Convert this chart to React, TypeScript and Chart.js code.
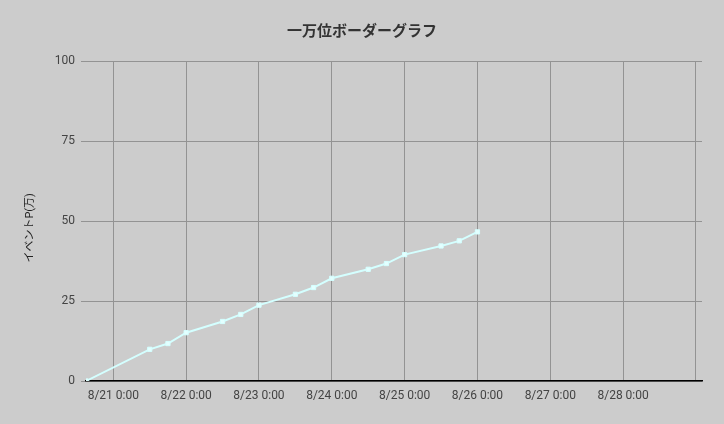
import { useEffect, useRef } from "react";
import { Chart, registerables, type ChartConfiguration } from "chart.js";

Chart.register(...registerables);

// sample times (month/day hour:min) and event points in 万
const TIMES = [
  "8/20 15:00",
  "8/21 12:00",
  "8/21 18:00",
  "8/22 0:00",
  "8/22 12:00",
  "8/22 18:00",
  "8/23 0:00",
  "8/23 12:00",
  "8/23 18:00",
  "8/24 0:00",
  "8/24 12:00",
  "8/24 18:00",
  "8/25 0:00",
  "8/25 12:00",
  "8/25 18:00",
  "8/26 0:00",
];
const POINTS = [0, 9.9, 11.7, 15.1, 18.6, 20.8, 23.7, 27.1, 29.2, 32.1, 34.9, 36.7, 39.5, 42.2, 43.8, 46.6];

const X_START = "8/20 15:00";
const X_END = "8/29 2:00";
const DAY_TICKS = ["8/21", "8/22", "8/23", "8/24", "8/25", "8/26", "8/27", "8/28", "8/29"];
const Y_TICKS = [0, 25, 50, 75, 100];

// hours since 8/21 0:00
function toHours(s: string): number {
  const [date, time] = s.split(" ");
  const day = Number(date.split("/")[1]);
  const [h, m] = (time ?? "0:00").split(":").map(Number);
  return (day - 21) * 24 + h + m / 60;
}

function label(hours: number): string {
  const day = 21 + Math.round(hours / 24);
  return `8/${day} 0:00`;
}

const FONT = "Roboto, 'Noto Sans CJK JP', sans-serif";

export default function App() {
  const canvasRef = useRef<HTMLCanvasElement>(null);

  useEffect(() => {
    document.body.style.margin = "0";
    if (!canvasRef.current) return;

    const data = TIMES.map((t, i) => ({ x: toHours(t), y: POINTS[i] }));
    const dayHours = DAY_TICKS.map((d) => toHours(d + " 0:00"));
    const lastLabelled = toHours("8/28 0:00");

    const config: ChartConfiguration<"line"> = {
      type: "line",
      data: {
        datasets: [
          {
            label: "一万位",
            data,
            borderColor: "#d4ffff",
            backgroundColor: "#e4ffff",
            pointBackgroundColor: "#e4ffff",
            pointBorderColor: "#d4ffff",
            pointStyle: "rect",
            pointRadius: 3,
            pointBorderWidth: 1,
            borderWidth: 2,
            tension: 0,
          },
        ],
      },
      options: {
        animation: false,
        responsive: true,
        maintainAspectRatio: false,
        layout: { padding: 0 },
        plugins: {
          legend: { display: false },
          tooltip: { enabled: false },
          title: {
            display: true,
            text: "一万位ボーダーグラフ",
            color: "#333",
            font: { family: FONT, size: 15, weight: "bold", lineHeight: 1.2 },
            padding: { top: 23, bottom: 20 },
          },
        },
        scales: {
          x: {
            type: "linear",
            min: toHours(X_START),
            max: toHours(X_END),
            afterBuildTicks: (scale) => {
              scale.ticks = dayHours.map((v) => ({ value: v }));
            },
            afterFit: (scale) => {
              scale.height = 43;
              scale.paddingRight = 22;
            },
            grid: { color: "#939393", drawTicks: false },
            border: { color: "#000", width: 1.5 },
            ticks: {
              autoSkip: false,
              maxRotation: 0,
              padding: 8,
              color: "#444",
              font: { family: FONT, size: 12 },
              callback: (v) => (Number(v) <= lastLabelled ? label(Number(v)) : ""),
            },
          },
          y: {
            min: 0,
            max: 100,
            afterBuildTicks: (scale) => {
              scale.ticks = Y_TICKS.map((v) => ({ value: v }));
            },
            afterFit: (scale) => {
              scale.width = 86;
            },
            grid: { color: "#939393", tickLength: 5 },
            border: { display: false },
            ticks: {
              padding: 6,
              color: "#444",
              font: { family: FONT, size: 12 },
            },
            title: {
              display: true,
              // trailing spaces nudge the rotated caption a little below centre, as in the source
              text: "イベントP(万)     ",
              color: "#222",
              font: { family: FONT, size: 11, lineHeight: 1.2 },
              padding: { top: 24, bottom: 0 },
            },
          },
        },
      },
    };

    const chart = new Chart(canvasRef.current, config);
    return () => chart.destroy();
  }, []);

  return (
    <div style={{ width: 724, height: 424, background: "#cccccc", position: "relative" }}>
      <canvas ref={canvasRef} />
    </div>
  );
}
